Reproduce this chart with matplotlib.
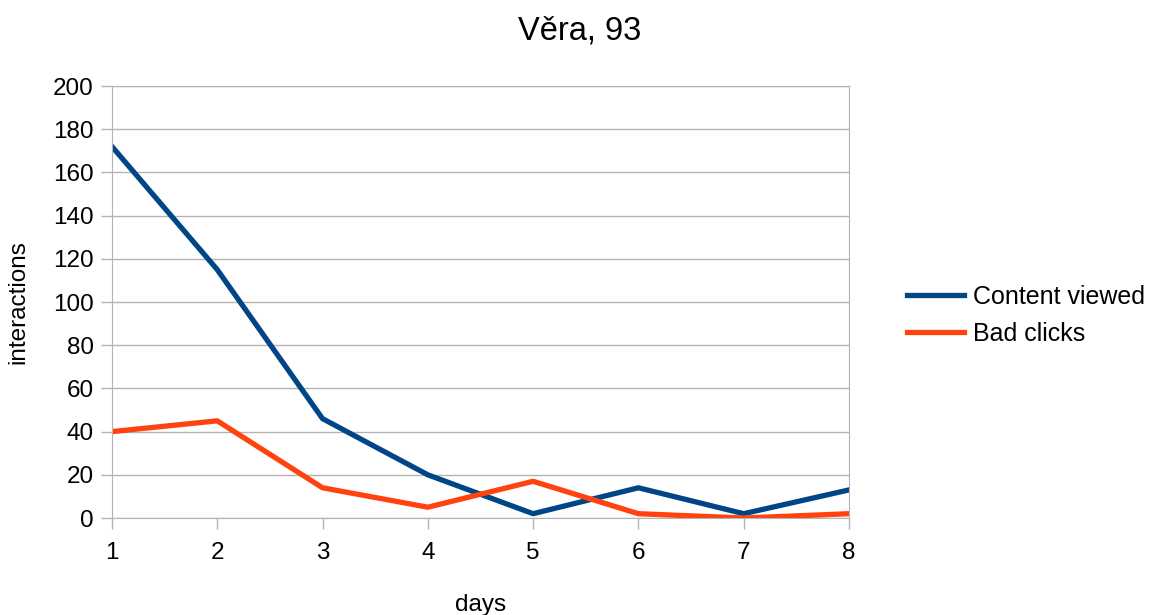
import matplotlib.pyplot as plt

plt.rcParams['font.family'] = ['Liberation Sans', 'DejaVu Sans']

days = [1, 2, 3, 4, 5, 6, 7, 8]
content_viewed = [172, 115, 46, 20, 2, 14, 2, 13]
bad_clicks = [40, 45, 14, 5, 17, 2, 0, 2]

fig = plt.figure(figsize=(11.59, 6.15), dpi=100)
ax = fig.add_axes([0.0966, 0.1577, 0.6359, 0.7024])

ax.plot(days, content_viewed, color='#004586', lw=3.8, label='Content viewed')
ax.plot(days, bad_clicks, color='#ff420e', lw=3.8, label='Bad clicks')

ax.set_xlim(1, 8)
ax.set_ylim(0, 200)
ax.set_xticks(days)
ax.set_yticks(range(0, 201, 20))
ax.grid(axis='y', color='#b3b3b3', lw=1)
ax.set_axisbelow(True)
for s in ax.spines.values():
    s.set_color('#b3b3b3')
ax.tick_params(colors='#b3b3b3', labelcolor='black', labelsize=17.5, length=8, width=1)
ax.tick_params(axis='x', pad=9)
ax.tick_params(axis='y', pad=5)

ax.set_xlabel('days', fontsize=17.5, labelpad=22)
ax.set_ylabel('interactions', fontsize=17.5, labelpad=17)
fig.suptitle('Věra, 93', fontsize=23.5, y=0.975)

fig.legend(loc='center left', bbox_to_anchor=(0.763, 0.487), frameon=False,
           fontsize=18, handlelength=2.3, handletextpad=0.33, labelspacing=0.5)

fig.savefig('out.png', dpi=100)
